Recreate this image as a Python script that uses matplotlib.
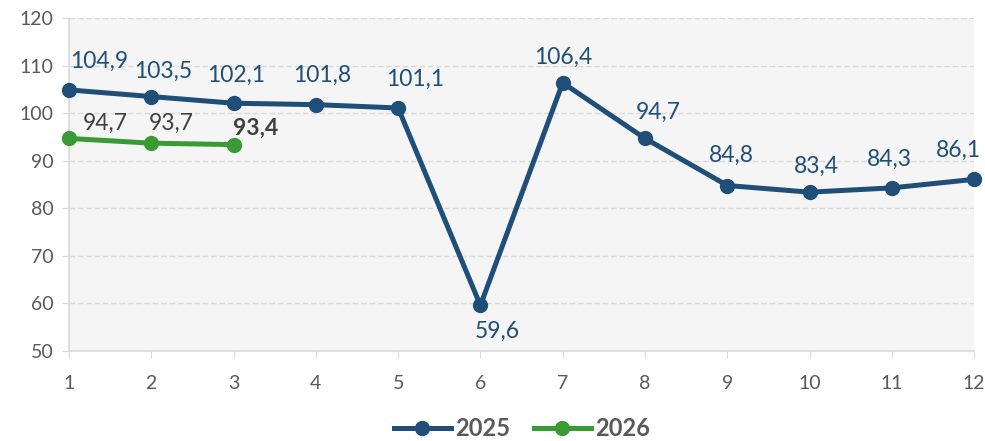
import matplotlib.pyplot as plt
from matplotlib.ticker import MultipleLocator
from matplotlib.lines import Line2D

# datos
meses = [1, 2, 3, 4, 5, 6, 7, 8, 9, 10, 11, 12]
v2025 = [104.9, 103.5, 102.1, 101.8, 101.1, 59.6, 106.4, 94.7, 84.8, 83.4, 84.3, 86.1]
meses_2026 = [1, 2, 3]
v2026 = [94.7, 93.7, 93.4]

# desplazamiento de etiquetas (pixeles), como en el original
desp_2025 = [(30, 29), (12, 25), (3, 28), (6, 29), (17, 29), (17, -26),
             (1, 25), (13, 26), (4, 30), (7, 26), (-2, 29), (-16, 29)]
desp_2026 = [(36, 15), (20, 20), (22, 16)]

azul = "#1f4e79"
verde = "#3a9b35"
gris_txt = "#595959"

plt.rcParams["font.family"] = ["Lato", "DejaVu Sans"]

fig = plt.figure(figsize=(9.85, 4.41), dpi=100)
ax = fig.add_axes([0.070, 0.204, 0.919, 0.755])
ax.set_facecolor("#f5f5f5")

ax.plot(meses, v2025, "-o", color=azul, lw=3.6, ms=10, label="2025", zorder=3, clip_on=False)
ax.plot(meses_2026, v2026, "-o", color=verde, lw=3.6, ms=10, label="2026", zorder=3, clip_on=False)

def fmt(v):
    return f"{v:.1f}".replace(".", ",")

for x, y, d in zip(meses, v2025, desp_2025):
    ax.annotate(fmt(y), (x, y), xytext=d, textcoords="offset pixels",
                ha="center", va="center", color=azul, fontsize=16.5)

for i, (x, y, d) in enumerate(zip(meses_2026, v2026, desp_2026)):
    bold = i == len(v2026) - 1
    ax.annotate(fmt(y), (x, y), xytext=d, textcoords="offset pixels",
                ha="center", va="center", color="#404040", fontsize=16.5,
                fontweight="bold" if bold else "normal")

ax.set_xlim(1, 12)
ax.set_ylim(50, 120)
ax.set_xticks(meses)
ax.yaxis.set_major_locator(MultipleLocator(10))
ax.grid(axis="y", color="#d9d9d9", ls=(0, (4, 2)), lw=1)
ax.set_axisbelow(True)
for s in ["top", "right"]:
    ax.spines[s].set_visible(False)
for s in ["left", "bottom"]:
    ax.spines[s].set_color("#d9d9d9")
    ax.spines[s].set_linewidth(1.2)
ax.tick_params(axis="both", colors="#d9d9d9", labelcolor=gris_txt, labelsize=14, length=5)
ax.tick_params(axis="y", pad=6)
ax.tick_params(axis="x", pad=12)

handles = [Line2D([], [], color=azul, lw=3.6, marker="o", ms=10),
           Line2D([], [], color=verde, lw=3.6, marker="o", ms=10)]
leg = fig.legend(handles, ["2025", "2026"], loc="lower center", bbox_to_anchor=(0.53, -0.047),
                 ncol=2, frameon=False, prop={"weight": "bold", "size": 17},
                 handlelength=2.4, columnspacing=1.0, handletextpad=0.2)
for t in leg.get_texts():
    t.set_color(gris_txt)

fig.savefig("out.png", dpi=100)
